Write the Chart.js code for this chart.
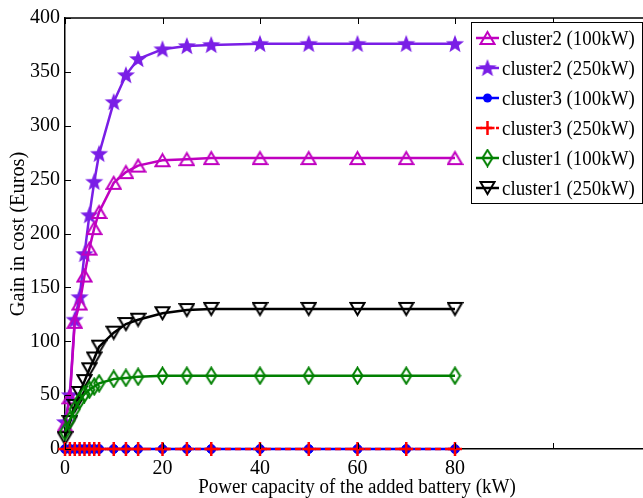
<!DOCTYPE html>
<html>
<head>
<meta charset="utf-8">
<script src="https://cdn.jsdelivr.net/npm/chart.js@4.4.1/dist/chart.umd.min.js"></script>
<style>
html, body { margin: 0; padding: 0; background: #fff; overflow: hidden; }
#wrap { width: 660px; height: 498px; }
</style>
</head>
<body>
<div id="wrap"><canvas id="chart" width="660" height="498"></canvas></div>
<script>
// values
const powerKW = [0, 1, 2, 3, 4, 5, 6, 7, 10, 12.5, 15, 20, 25, 30, 40, 50, 60, 70, 80];
const cluster2_100 = [22, 48, 118, 135, 161, 186, 205, 220, 247, 257, 263, 268, 269, 270, 270, 270, 270, 270, 270];
const cluster2_250 = [25, 50, 120, 141, 181, 217, 248, 274, 322, 347, 362, 371, 374, 375, 376, 376, 376, 376, 376];
const cluster3_100 = [0, 0, 0, 0, 0, 0, 0, 0, 0, 0, 0, 0, 0, 0, 0, 0, 0, 0, 0];
const cluster3_250 = [0, 0, 0, 0, 0, 0, 0, 0, 0, 0, 0, 0, 0, 0, 0, 0, 0, 0, 0];
const cluster1_100 = [16, 27, 37, 45, 51, 55, 58, 61, 65, 66, 67, 68, 68, 68, 68, 68, 68, 68, 68];
const cluster1_250 = [10, 25, 40, 52, 63, 74, 84, 95, 108, 116, 120, 126, 129, 130, 130, 130, 130, 130, 130];
const xTicks = [0, 20, 40, 60, 80, 100, 120];
const xLabelMax = 80;
const yTicks = [0, 50, 100, 150, 200, 250, 300, 350, 400];
const xTitle = 'Power capacity of the added battery (kW)';
const yTitle = 'Gain in cost (Euros)';

const FONT = '"Liberation Serif", "Times New Roman", serif';
const MAGENTA = '#c000c0';
const PURPLE = '#7a1ee6';

function markerCanvas(w, h, draw) {
    let cv = document.createElement('canvas');
    cv.width = w;
    cv.height = h;
    draw(cv.getContext('2d'), w, h);
    return cv;
}

const triUp = markerCanvas(17, 16, (g) => {
    g.strokeStyle = MAGENTA; g.lineWidth = 2;
    g.beginPath(); g.moveTo(8.5, 2); g.lineTo(15.5, 14); g.lineTo(1.5, 14); g.closePath(); g.stroke();
});
const star = markerCanvas(20, 20, (g) => {
    g.fillStyle = PURPLE;
    g.beginPath();
    for (let i = 0; i < 10; i++) {
        let r = i % 2 === 0 ? 9.5 : 4;
        let a = -Math.PI / 2 + i * Math.PI / 5;
        let px = 10 + r * Math.cos(a), py = 10.5 + r * Math.sin(a);
        if (i === 0) g.moveTo(px, py); else g.lineTo(px, py);
    }
    g.closePath(); g.fill();
});
const diamond = markerCanvas(13, 19, (g) => {
    g.strokeStyle = '#008000'; g.lineWidth = 2;
    g.beginPath(); g.moveTo(6.5, 1.5); g.lineTo(11.5, 9.5); g.lineTo(6.5, 17.5); g.lineTo(1.5, 9.5); g.closePath(); g.stroke();
});
const triDown = markerCanvas(17, 16, (g) => {
    g.strokeStyle = '#000'; g.lineWidth = 2;
    g.beginPath(); g.moveTo(1.5, 2); g.lineTo(15.5, 2); g.lineTo(8.5, 14); g.closePath(); g.stroke();
});

function pts(ys) {
    return powerKW.map((x, i) => ({ x: x, y: ys[i] }));
}

const datasets = [
    { label: 'cluster2 (100kW)', data: pts(cluster2_100), borderColor: MAGENTA, backgroundColor: MAGENTA, pointStyle: triUp, order: 4 },
    { label: 'cluster2 (250kW)', data: pts(cluster2_250), borderColor: PURPLE, backgroundColor: PURPLE, pointStyle: star, order: 5 },
    { label: 'cluster3 (100kW)', data: pts(cluster3_100), borderColor: '#0000ff', backgroundColor: '#0000ff', pointStyle: 'circle', pointRadius: 4.5, pointBorderWidth: 1, order: 1 },
    { label: 'cluster3 (250kW)', data: pts(cluster3_250), borderColor: '#ff0000', backgroundColor: '#ff0000', pointStyle: 'cross', pointRadius: 7, pointBorderWidth: 2.5, borderDash: [6, 4], order: 0 },
    { label: 'cluster1 (100kW)', data: pts(cluster1_100), borderColor: '#008000', backgroundColor: '#008000', pointStyle: diamond, order: 2 },
    { label: 'cluster1 (250kW)', data: pts(cluster1_250), borderColor: '#000000', backgroundColor: '#000000', pointStyle: triDown, order: 3 }
];
datasets.forEach(d => {
    d.borderWidth = 2.5;
    d.tension = 0;
    d.fill = false;
    d.clip = false;
    if (d.pointRadius === undefined) d.pointRadius = 6;
});

// draw text squeezed a bit horizontally (the figure's font is narrow)
function squeezedText(ctx, text, x, y, size, sx, rot, align) {
    ctx.save();
    ctx.translate(x, y);
    if (rot) ctx.rotate(rot);
    ctx.scale(sx, 1);
    ctx.font = size + 'px ' + FONT;
    ctx.fillStyle = '#000';
    ctx.textBaseline = 'middle';
    ctx.textAlign = align;
    ctx.fillText(text, 0, 0);
    ctx.restore();
}

// inward tick marks on the frame, top edge and axis titles
const frameTicks = {
    id: 'frameTicks',
    afterDatasetsDraw(chart) {
        let ctx = chart.ctx, a = chart.chartArea;
        let xs = chart.scales.x, ys = chart.scales.y;
        ctx.save();
        ctx.strokeStyle = '#000';
        ctx.lineWidth = 1;
        ctx.beginPath();
        xTicks.forEach(v => {
            let px = Math.round(xs.getPixelForValue(v)) + 0.5;
            ctx.moveTo(px, a.bottom); ctx.lineTo(px, a.bottom - 6);
            ctx.moveTo(px, a.top); ctx.lineTo(px, a.top + 6);
        });
        yTicks.forEach(v => {
            let py = Math.round(ys.getPixelForValue(v)) + 0.5;
            ctx.moveTo(a.left, py); ctx.lineTo(a.left + 6, py);
            ctx.moveTo(a.right, py); ctx.lineTo(a.right - 6, py);
        });
        ctx.stroke();
        ctx.lineWidth = 1.5;
        ctx.beginPath();
        ctx.moveTo(a.left, a.top); ctx.lineTo(a.right, a.top);
        ctx.stroke();
        ctx.restore();
        squeezedText(ctx, xTitle, 357, 488, 20, 0.95, 0, 'center');
        squeezedText(ctx, yTitle, 18, 234, 21, 0.97, -Math.PI / 2, 'center');
    }
};

// MATLAB-style boxed legend with line + marker samples
const boxLegend = {
    id: 'boxLegend',
    afterDraw(chart) {
        let ctx = chart.ctx;
        let left = 471, top = 22, right = 642, bottom = 203;
        ctx.save();
        ctx.fillStyle = '#fff';
        ctx.fillRect(left, top, right - left, bottom - top);
        ctx.strokeStyle = '#000';
        ctx.lineWidth = 1;
        ctx.strokeRect(left + 0.5, top + 0.5, right - left, bottom - top);
        chart.data.datasets.forEach((d, i) => {
            let cy = 38 + i * 30;
            ctx.strokeStyle = d.borderColor;
            ctx.lineWidth = 2.5;
            ctx.setLineDash(d.borderDash || []);
            ctx.beginPath(); ctx.moveTo(476, cy); ctx.lineTo(499, cy); ctx.stroke();
            ctx.setLineDash([]);
            let cx = 487.5;
            if (typeof d.pointStyle === 'object') {
                ctx.drawImage(d.pointStyle, cx - d.pointStyle.width / 2, cy - d.pointStyle.height / 2);
            } else if (d.pointStyle === 'circle') {
                ctx.fillStyle = d.backgroundColor;
                ctx.beginPath(); ctx.arc(cx, cy, 4.5, 0, Math.PI * 2); ctx.fill();
            } else if (d.pointStyle === 'cross') {
                ctx.strokeStyle = d.borderColor; ctx.lineWidth = 2.5;
                ctx.beginPath();
                ctx.moveTo(cx - 7, cy); ctx.lineTo(cx + 7, cy);
                ctx.moveTo(cx, cy - 7); ctx.lineTo(cx, cy + 7);
                ctx.stroke();
            }
            squeezedText(ctx, d.label, 502, cy + 1, 21, 0.9, 0, 'left');
        });
        ctx.restore();
    }
};

new Chart(document.getElementById('chart'), {
    type: 'line',
    data: { datasets: datasets },
    plugins: [frameTicks, boxLegend],
    options: {
        responsive: false,
        animation: false,
        devicePixelRatio: 1,
        layout: { padding: { top: 18, right: 10, left: 0, bottom: 0 } },
        plugins: { legend: { display: false }, tooltip: { enabled: false } },
        scales: {
            x: {
                type: 'linear',
                min: 0,
                max: 120,
                afterBuildTicks: (s) => { s.ticks = xTicks.map(v => ({ value: v })); },
                afterFit: (s) => { s.height = 49; },
                grid: { display: false, drawTicks: false },
                border: { display: true, color: '#000', width: 1.5 },
                ticks: {
                    color: '#000',
                    font: { family: FONT, size: 20 },
                    padding: 8,
                    maxRotation: 0,
                    autoSkip: false,
                    callback: (v) => v <= xLabelMax ? v : ''
                }
            },
            y: {
                min: 0,
                max: 400,
                afterBuildTicks: (s) => { s.ticks = yTicks.map(v => ({ value: v })); },
                afterFit: (s) => { s.width = 65; },
                grid: { display: false, drawTicks: false },
                border: { display: true, color: '#000', width: 1.5 },
                ticks: {
                    color: '#000',
                    font: { family: FONT, size: 20 },
                    padding: 5
                }
            }
        }
    }
});
</script>
</body>
</html>
